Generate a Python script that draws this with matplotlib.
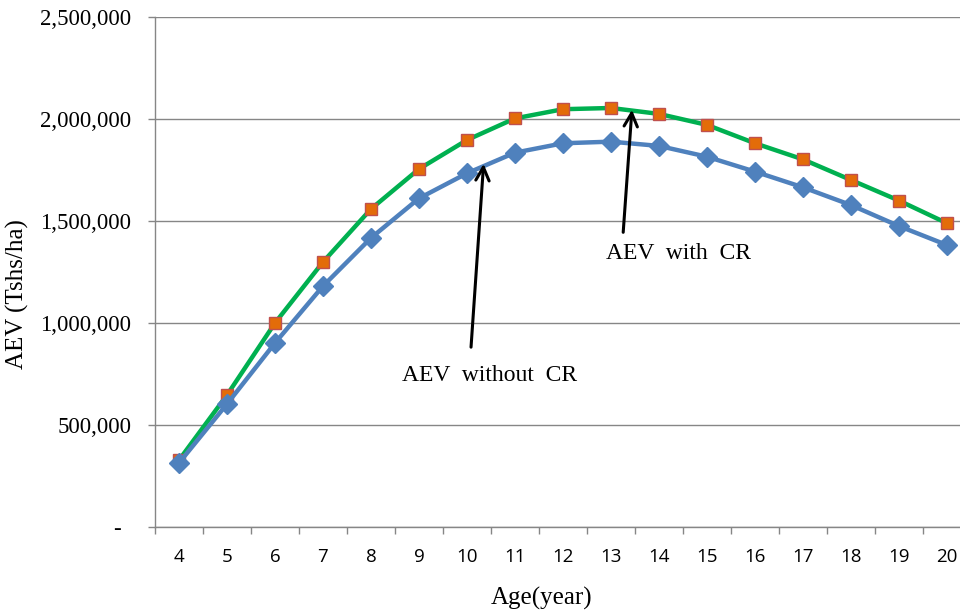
import matplotlib
matplotlib.use("Agg")
import matplotlib.pyplot as plt
from matplotlib.ticker import FuncFormatter, FixedLocator
from matplotlib.transforms import ScaledTranslation

# AEV by stand age, with and without carbon revenue
ages = [4, 5, 6, 7, 8, 9, 10, 11, 12, 13, 14, 15, 16, 17, 18, 19, 20]
aev_with_cr = [328000, 647000, 1000000, 1299000, 1559000, 1755000, 1897000,
               2003000, 2048000, 2054000, 2025000, 1971000, 1881000, 1802000,
               1701000, 1600000, 1489000]
aev_without_cr = [314000, 603000, 902000, 1181000, 1417000, 1611000, 1734000,
                  1835000, 1881000, 1889000, 1868000, 1815000, 1742000,
                  1665000, 1578000, 1475000, 1382000]

serif = "Liberation Serif"
sans = "Open Sans"

fig = plt.figure(figsize=(9.6, 6.14), dpi=100)
ax = fig.add_axes([155 / 960, 1 - 527 / 614, 816 / 960, 510 / 614])

ax.plot(ages, aev_with_cr, color="#00B050", lw=3.2, marker="s", ms=8.5,
        mfc="#E36C09", mec="#C0504D", mew=1.0, zorder=3)
ax.plot(ages, aev_without_cr, color="#4F81BD", lw=3.2, marker="D", ms=10,
        mfc="#4F81BD", mec="#4F81BD", zorder=3)

ax.set_xlim(3.5, 20.5)
ax.set_ylim(0, 2500000)

# category axis: labels at centres, tick marks between categories
ax.set_xticks(ages)
ax.set_xticklabels([str(a) for a in ages], fontfamily=sans, fontsize=13.5)
ax.tick_params(axis="x", which="major", length=0, pad=15)
ax.xaxis.set_minor_locator(FixedLocator([a - 0.5 for a in ages] + [20.5]))
ax.tick_params(axis="x", which="minor", length=5, color="#868686", width=1)

# accounting-style labels: zero shown as a dash
ax.set_yticks([0, 500000, 1000000, 1500000, 2000000, 2500000])
ax.yaxis.set_major_formatter(FuncFormatter(lambda v, p: "-" if v == 0 else f"{v:,.0f}"))
ax.tick_params(axis="y", length=5, color="#868686", width=1, pad=12)
for lbl in ax.get_yticklabels():
    lbl.set_fontfamily(serif)
    lbl.set_fontsize(16.5)
zero_lbl = ax.yaxis.get_major_ticks()[0].label1
zero_lbl.set_transform(zero_lbl.get_transform()
                       + ScaledTranslation(-0.11, 0, fig.dpi_scale_trans))

ax.grid(axis="y", color="#868686", lw=1)
ax.set_axisbelow(True)
for side in ["top", "right"]:
    ax.spines[side].set_visible(False)
for side in ["left", "bottom"]:
    ax.spines[side].set_color("#868686")
    ax.spines[side].set_linewidth(1)

ax.set_xlabel("Age(year)", fontfamily=serif, fontsize=18, va="center")
ax.xaxis.set_label_coords(0.474, -0.141)
ax.set_ylabel("AEV (Tshs/ha)", fontfamily=serif, fontsize=18, va="center")
ax.yaxis.set_label_coords(-0.168, 0.457)

arrow = dict(arrowstyle="->", color="black", lw=2.2, mutation_scale=24)
ax.annotate("", xy=(13.44, 2059000), xytext=(13.25, 1431000), arrowprops=arrow)
ax.text(14.4, 1343000, "AEV  with  CR", fontfamily=serif, fontsize=17,
        ha="center", va="center")
ax.annotate("", xy=(10.35, 1794000), xytext=(10.08, 868000), arrowprops=arrow)
ax.text(10.47, 745000, "AEV  without  CR", fontfamily=serif, fontsize=17,
        ha="center", va="center")

fig.savefig("out.png", dpi=100)
